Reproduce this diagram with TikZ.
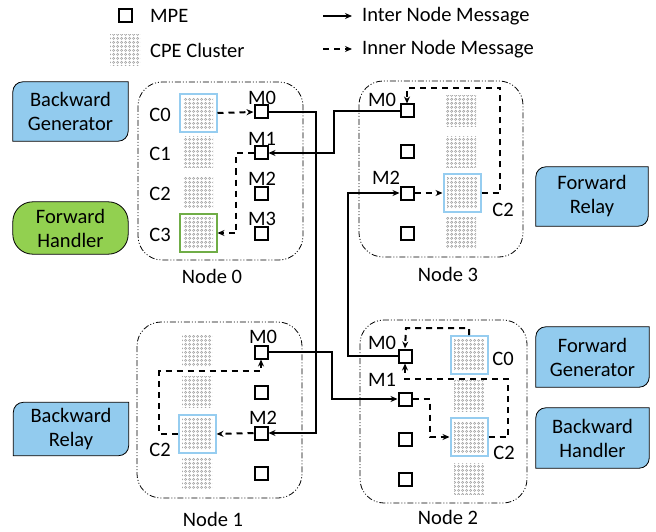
\documentclass[tikz,border=0pt]{standalone}
\usepackage{fontspec}
\setmainfont{Carlito}
\usetikzlibrary{arrows.meta, patterns, backgrounds}

\definecolor{roleblue}{RGB}{146,203,238}
\definecolor{rolegreen}{RGB}{146,208,80}
\definecolor{cpeblue}{RGB}{150,205,240}
\definecolor{cpegreen}{RGB}{112,173,71}
\definecolor{cpegray}{RGB}{150,150,150}

% grid of small rings for the CPE clusters
\pgfdeclarepatternformonly{cperings}{\pgfqpoint{0pt}{0pt}}{\pgfqpoint{3.6pt}{3.6pt}}{\pgfqpoint{3.6pt}{3.6pt}}{%
  \pgfsetlinewidth{0.5pt}%
  \pgfpathcircle{\pgfqpoint{1.8pt}{1.8pt}}{1.2pt}%
  \pgfusepath{stroke}}

% box with rounded top-left and bottom-right corners behind a role node
\newcommand\tabshape[2]{%
  \draw[fill=#2, line width=0.8pt] (#1.south west) -- ([yshift=-10pt]#1.north west)
    .. controls ([yshift=-4.5pt]#1.north west) and ([xshift=4.5pt]#1.north west) .. ([xshift=10pt]#1.north west)
    -- (#1.north east) -- ([yshift=10pt]#1.south east)
    .. controls ([yshift=4.5pt]#1.south east) and ([xshift=-4.5pt]#1.south east) .. ([xshift=-10pt]#1.south east)
    -- cycle;}

\begin{document}
\begin{tikzpicture}[x=1pt, y=-1pt,
  every node/.style={font=\fontsize{20.5}{24}\selectfont, inner sep=1pt},
  mpe/.style={draw, line width=2pt, minimum size=13pt, inner sep=0pt},
  cpe/.style={pattern=cperings, pattern color=cpegray, minimum width=30pt, minimum height=31pt, inner sep=0pt},
  cpehl/.style={draw=#1, line width=2pt, minimum width=37pt, minimum height=38pt, inner sep=0pt,
    path picture={\fill[pattern=cperings, pattern color=cpegray]
      ([xshift=3.5pt,yshift=-3.5pt]path picture bounding box.north west) rectangle
      ([xshift=-3.5pt,yshift=3.5pt]path picture bounding box.south east);}},
  nodebox/.style={draw, line width=0.8pt, rounded corners=24pt,
    dash pattern=on 6pt off 2pt on 1pt off 2pt on 1pt off 2pt},
  inter/.style={line width=2pt, -{Stealth[length=7pt, width=6pt]}},
  inner/.style={line width=2pt, dash pattern=on 6pt off 5pt, -{Stealth[length=7pt, width=6pt]}},
  role/.style={align=center, minimum width=115pt, minimum height=59pt, inner sep=0pt}
]
\useasboundingbox (0,0) rectangle (656,532);

% legend
\node[mpe] (lgmpe) at (125,16) {};
\node[anchor=west] (lgmpet) at (149,16) {MPE};
\node[cpe] (lgcpe) at (125,50) {};
\node[anchor=west] (lgcpet) at (149,50) {CPE Cluster};
\coordinate (lgs1) at (323,16);
\coordinate (lge1) at (352,16);
\coordinate (lgs2) at (323,49);
\coordinate (lge2) at (352,49);
\draw[inter] (lgs1) -- (lge1);
\draw[inner] (lgs2) -- (lge2);
\node[anchor=west] (lgintert) at (361,16) {Inter Node Message};
\node[anchor=west] (lginnert) at (361,49) {Inner Node Message};

% node frames
\draw[nodebox] (138,82) rectangle (303,260);
\draw[nodebox] (359,81) rectangle (523,257);
\draw[nodebox] (137,322) rectangle (302,498);
\draw[nodebox] (360,320) rectangle (527,503);
\node (node0) at (212,276) {Node 0};
\node (node3) at (448,274) {Node 3};
\node (node1) at (213,519) {Node 1};
\node (node2) at (448,517) {Node 2};

% Node 0
\node[cpehl=cpeblue] (n0c0) at (198,113) {};
\node[cpe] (n0c1) at (198,152) {};
\node[cpe] (n0c2) at (198,192) {};
\node[cpehl=cpegreen] (n0c3) at (198,233) {};
\node (n0c0t) at (160,115) {C0};
\node (n0c1t) at (160,154) {C1};
\node (n0c2t) at (160,194) {C2};
\node (n0c3t) at (160,235) {C3};
\foreach \i/\y in {0/112, 1/153, 2/193, 3/233} {
  \node[mpe] (n0m\i) at (261,\y) {};
  \node (n0m\i t) at (262,\y-14) {M\i};
}

% Node 3
\node[cpe] (n3c0) at (461,111) {};
\node[cpe] (n3c1) at (461,152) {};
\node[cpehl=cpeblue] (n3c2) at (462,193) {};
\node[cpe] (n3c3) at (461,233) {};
\node (n3c2t) at (503,210) {C2};
\foreach \i/\y in {0/111, 1/152, 2/193, 3/233}
  \node[mpe] (n3m\i) at (407,\y) {};
\node (n3m0t) at (382,100) {M0};
\node (n3m2t) at (386,178) {M2};

% Node 1
\node[cpe] (n1c0) at (197,351) {};
\node[cpe] (n1c1) at (197,392) {};
\node[cpehl=cpeblue] (n1c2) at (197,434) {};
\node[cpe] (n1c3) at (197,473) {};
\node (n1c2t) at (160,450) {C2};
\foreach \i/\y in {0/352, 1/392, 2/433, 3/473}
  \node[mpe] (n1m\i) at (261,\y) {};
\node (n1m0t) at (263,337) {M0};
\node (n1m2t) at (263,418) {M2};

% Node 2
\node[cpehl=cpeblue] (n2c0) at (469,355) {};
\node[cpe] (n2c1) at (469,396) {};
\node[cpehl=cpeblue] (n2c2) at (469,437) {};
\node[cpe] (n2c3) at (469,479) {};
\node (n2c0t) at (503,359) {C0};
\node (n2c2t) at (504,453) {C2};
\foreach \i/\y in {0/356, 1/399, 2/439, 3/479}
  \node[mpe] (n2m\i) at (405,\y) {};
\node (n2m0t) at (382,343) {M0};
\node (n2m1t) at (382,380) {M1};

% inner node messages
\draw[inner] (n0c0.east) -- (n0m0.west);
\draw[inner] (n0m1.west) -| (236,233) -- (n0c3.east);
\draw[inner] (n3m2.east) -- (n3c2.west);
\draw[inner] (n3c2.east) -| (500,88) -| (n3m0.north);
\draw[inner] (n1m2.west) -- (n1c2.east);
\draw[inner] (n1c2.west) -| (159,371) -| (n1m0.south);
\draw[inner] (n2c0.north) |- (406,328) -- (n2m0.north);
\draw[inner] (n2c2.east) -| (508,379) -| (n2m0.south);
\draw[inner] (n2m1.east) -| (430,437) -- (n2c2.west);

% inter node messages
\draw[inter] (n0m0.east) -- (316,112) |- (n1m2.east);
\draw[inter] (n3m0.west) -- (334,111) |- (n0m1.east);
\draw[inter] (n2m0.west) -- (348,356) |- (n3m2.west);
\draw[inter] (n1m0.east) -- (332,352) |- (n2m1.west);

% roles
\node[role] (bgen) at (70.5,111.5) {Backward\\Generator};
\node[role, minimum height=52pt] (fhand) at (70.5,228) {Forward\\Handler};
\node[role, minimum height=53pt] (brel) at (71,429) {Backward\\Relay};
\node[role, minimum width=112pt] (frel) at (592,196.5) {Forward\\Relay};
\node[role, minimum width=113pt, minimum height=60pt] (fgen) at (592.5,357) {Forward\\Generator};
\node[role, minimum width=113pt, minimum height=60pt] (bhand) at (592.5,438) {Backward\\Handler};
\begin{scope}[on background layer]
  \tabshape{bgen}{roleblue}
  \tabshape{brel}{roleblue}
  \tabshape{frel}{roleblue}
  \tabshape{fgen}{roleblue}
  \tabshape{bhand}{roleblue}
  \draw[fill=rolegreen, line width=0.8pt, rounded corners=20pt]
    (fhand.south west) rectangle (fhand.north east);
\end{scope}
\end{tikzpicture}
\end{document}
